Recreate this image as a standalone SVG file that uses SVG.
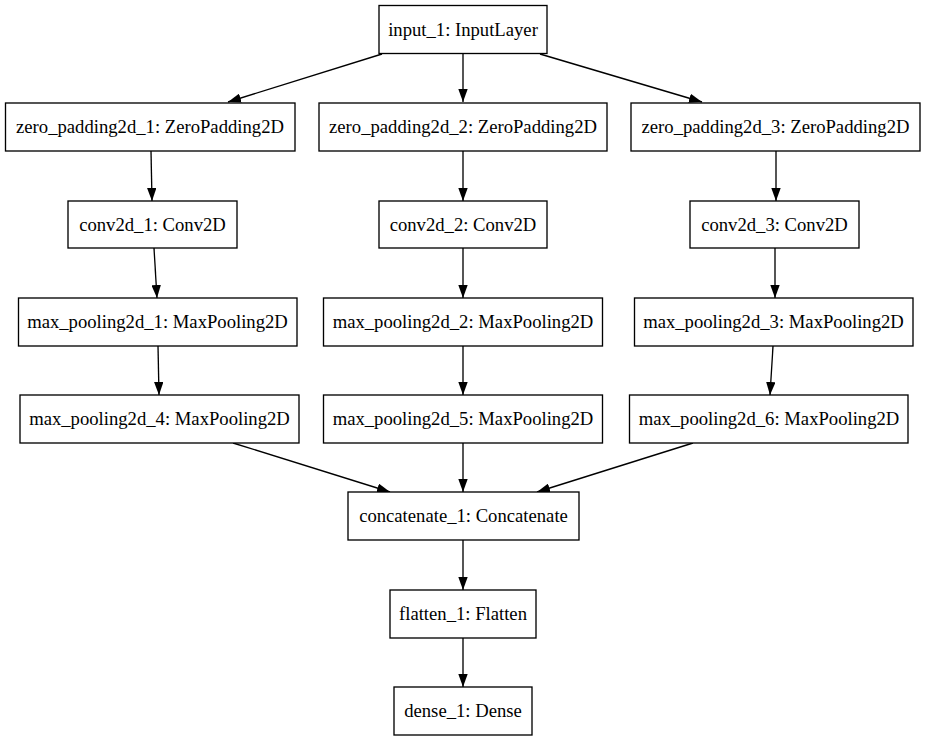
<svg xmlns="http://www.w3.org/2000/svg" width="927" height="741" viewBox="0 0 927 741">
<style>
.n rect{fill:#fff;stroke:#000;stroke-width:1.33}
.n text{font-family:"Liberation Serif","Times New Roman",serif;font-size:18.67px;text-anchor:middle;fill:#000}
.e path{fill:none;stroke:#000;stroke-width:1.33;marker-end:url(#ah)}
</style>
<defs>
<marker id="ah" viewBox="0 0 13 9.4" refX="13" refY="4.7" markerWidth="13" markerHeight="9.4" markerUnits="userSpaceOnUse" orient="auto">
<path d="M0,0 L13,4.7 L0,9.4 z" fill="#000"/>
</marker>
</defs>
<rect width="927" height="741" fill="#fff"/>
<g id="connectors" class="e">
<path d="M382,54 L228,102"/>
<path d="M463,54 L463,102"/>
<path d="M540,54 L702,102"/>
<path d="M151,151 L152,201"/>
<path d="M463,151 L463,201"/>
<path d="M776,151 L776,201"/>
<path d="M154,248 L157,298"/>
<path d="M463,248 L463,298"/>
<path d="M775,248 L775,298"/>
<path d="M158,346 L159,395"/>
<path d="M463,346 L463,395"/>
<path d="M773,346 L770,395"/>
<path d="M233,443 L390,492"/>
<path d="M463,443 L463,492"/>
<path d="M693,443 L537,492"/>
<path d="M463,540 L463,590"/>
<path d="M463,638 L463,687"/>
</g>
<g id="input_1" class="n"><rect x="379" y="5.5" width="168" height="48"/><text x="463" y="35.5">input_1: InputLayer</text></g>
<g id="zero_padding2d_1" class="n"><rect x="5.5" y="103" width="289.5" height="48"/><text x="150" y="133">zero_padding2d_1: ZeroPadding2D</text></g>
<g id="zero_padding2d_2" class="n"><rect x="319" y="103" width="288" height="48"/><text x="463" y="133">zero_padding2d_2: ZeroPadding2D</text></g>
<g id="zero_padding2d_3" class="n"><rect x="631" y="103" width="289" height="48"/><text x="775.5" y="133">zero_padding2d_3: ZeroPadding2D</text></g>
<g id="conv2d_1" class="n"><rect x="68" y="201" width="169" height="47"/><text x="152.5" y="230.5">conv2d_1: Conv2D</text></g>
<g id="conv2d_2" class="n"><rect x="379" y="201" width="168" height="47"/><text x="463" y="230.5">conv2d_2: Conv2D</text></g>
<g id="conv2d_3" class="n"><rect x="690" y="201" width="169" height="47"/><text x="774.5" y="230.5">conv2d_3: Conv2D</text></g>
<g id="max_pooling2d_1" class="n"><rect x="18.5" y="298" width="278.5" height="48"/><text x="157.5" y="328">max_pooling2d_1: MaxPooling2D</text></g>
<g id="max_pooling2d_2" class="n"><rect x="323.5" y="298" width="279" height="48"/><text x="463" y="328">max_pooling2d_2: MaxPooling2D</text></g>
<g id="max_pooling2d_3" class="n"><rect x="634.5" y="298" width="278.5" height="48"/><text x="773.5" y="328">max_pooling2d_3: MaxPooling2D</text></g>
<g id="max_pooling2d_4" class="n"><rect x="20" y="395" width="279" height="48"/><text x="159.5" y="425">max_pooling2d_4: MaxPooling2D</text></g>
<g id="max_pooling2d_5" class="n"><rect x="323.5" y="395" width="279" height="48"/><text x="463" y="425">max_pooling2d_5: MaxPooling2D</text></g>
<g id="max_pooling2d_6" class="n"><rect x="629.5" y="395" width="278.5" height="48"/><text x="769" y="425">max_pooling2d_6: MaxPooling2D</text></g>
<g id="concatenate_1" class="n"><rect x="348" y="492" width="231" height="48"/><text x="463.5" y="522">concatenate_1: Concatenate</text></g>
<g id="flatten_1" class="n"><rect x="390" y="590" width="146" height="48"/><text x="463" y="620">flatten_1: Flatten</text></g>
<g id="dense_1" class="n"><rect x="394" y="687" width="138" height="48"/><text x="463" y="717">dense_1: Dense</text></g>
</svg>
